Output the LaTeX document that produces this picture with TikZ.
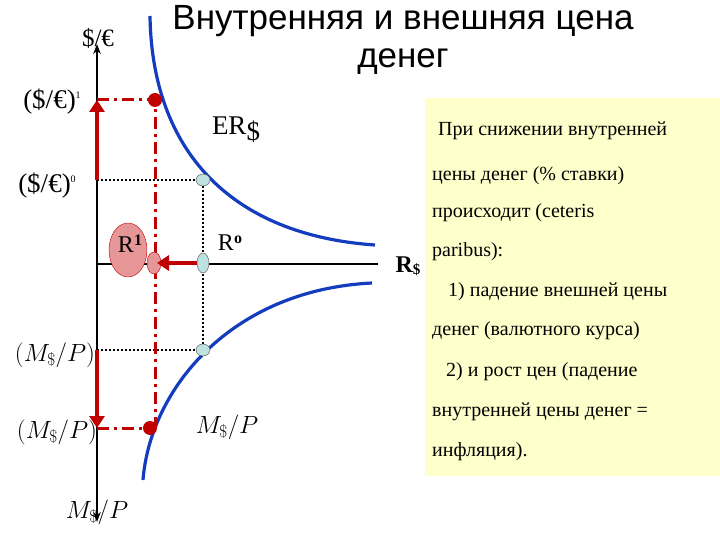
\documentclass[tikz,border=0pt]{standalone}
\usepackage{fontspec}
\setmainfont{Liberation Serif}
\newfontfamily\titlefont{Liberation Sans}
\usetikzlibrary{arrows.meta,shapes.geometric}
\definecolor{dred}{RGB}{192,0,0}
\definecolor{lblue}{RGB}{190,225,225}
\definecolor{pinkf}{RGB}{230,150,150}
\definecolor{boxbg}{RGB}{255,255,204}
\definecolor{cblue}{RGB}{20,60,190}
\begin{document}
\begin{tikzpicture}[x=1pt,y=-1pt,
  reddash/.style={dred,line width=3pt,dash pattern=on 12pt off 5pt on 3pt off 5pt},
  dotl/.style={black,line width=1.5pt,dash pattern=on 2pt off 2pt},
  redarr/.style={dred,line width=4.5pt,-{Triangle[length=12pt,width=15pt]}},
  curve/.style={cblue,line width=3.2pt},
  bt/.style={font=\fontsize{20}{24}\selectfont,anchor=west,inner sep=0pt},
  lab/.style={font=\fontsize{27}{30}\selectfont,inner sep=0pt},
  frac/.style={inner sep=0pt,font=\fontsize{24}{28}\selectfont}]
\useasboundingbox (0,0) rectangle (720,540);
% text box
\fill[boxbg] (425,98) rectangle (720,476);
% axes
\draw[line width=2.5pt,-{Stealth[length=10pt]}] (97,264) -- (97,44);
\draw[line width=2.5pt,-{Stealth[length=10pt]}] (97,264) -- (97,522);
\draw[line width=2.5pt] (97,264) -- (378,264);
% curves
\draw[curve] (150,16) .. controls (152,150) and (230,235) .. (375,245);
\draw[curve] (143,480) .. controls (150,390) and (230,290) .. (372,283);
% guide lines
\draw[dotl] (97,180) -- (203,180) -- (203,350) -- (97,350);
\draw[reddash] (97,100) -- (155,100) -- (155,428);
\draw[reddash] (97,428) -- (150,428);
% R1 ellipse
\node (r1) [ellipse,draw=dred,fill=pinkf,minimum width=38pt,minimum height=54pt,inner sep=0pt] at (128,250) {};
\node (r1s) [ellipse,draw=dred,fill=pinkf,minimum width=14pt,minimum height=22pt,inner sep=0pt] at (154,263) {};
% arrows
\node (a0) [coordinate] at (97,180) {};
\node (a1) [coordinate] at (97,100) {};
\node (b0) [coordinate] at (97,350) {};
\node (b1) [coordinate] at (97,428) {};
\node (c0) [coordinate] at (203,263) {};
\node (c1) [coordinate] at (157,263) {};
\draw[redarr] (a0) -- (a1);
\draw[redarr] (b0) -- (b1);
\draw[redarr] (c0) -- (c1);
% dots
\node (p1) [circle,fill=dred,minimum size=14pt,inner sep=0pt] at (155,100) {};
\node (p2) [circle,fill=dred,minimum size=14pt,inner sep=0pt] at (150,428) {};
\node (q1) [ellipse,draw=black!70,fill=lblue,minimum width=14pt,minimum height=12pt,inner sep=0pt] at (203,180) {};
\node (q2) [ellipse,draw=black!70,fill=lblue,minimum width=14pt,minimum height=12pt,inner sep=0pt] at (203,350) {};
\node (q3) [ellipse,draw=black!70,fill=lblue,minimum width=12pt,minimum height=20pt,inner sep=0pt] at (203,263) {};
% labels
\node (t1) [font=\titlefont\fontsize{35}{38}\selectfont,align=center,inner sep=0pt] at (403,40) {Внутренняя и внешняя цена\\денег};
\node (l0) [lab,font=\fontsize{25}{28}\selectfont] at (98,38) {\$/€};
\node (l1) [lab] at (52,102) {(\$/€)\raisebox{10pt}{\fontsize{10}{10}\selectfont 1}};
\node (l2) [lab] at (47,186) {(\$/€)\raisebox{10pt}{\fontsize{10}{10}\selectfont 0}};
\node (er) [lab] at (236,130) {ER\raisebox{-6pt}{\$}};
\node (lr1) [lab,font=\fontsize{24}{26}\selectfont] at (130,244) {R\raisebox{7pt}{\fontsize{16}{16}\selectfont\bfseries 1}};
\node (lr0) [lab,font=\fontsize{24}{26}\selectfont] at (230,243) {R\raisebox{7pt}{\fontsize{16}{16}\selectfont\bfseries o}};
\node (rs) [lab,font=\fontsize{24}{26}\selectfont\bfseries] at (408,266) {R\raisebox{-2pt}{\fontsize{15}{15}\selectfont\$}};
\node (m0) [frac] at (55,355) {$\displaystyle\biggl(M_{\$}\big/P\biggr)$};
\node (m1) [frac] at (57,432) {$\displaystyle\biggl(M_{\$}\big/P\biggr)$};
\node (m2) [frac] at (227,427) {$M_{\$}\big/P$};
\node (m3) [frac] at (97,512) {$M_{\$}\big/P$};
% box text
\node (x1) [bt] at (438,131) {При снижении внутренней};
\node (x2) [bt] at (432,176) {цены денег (\% ставки)};
\node (x3) [bt] at (432,213) {происходит (ceteris};
\node (x4) [bt] at (432,252) {paribus):};
\node (x5) [bt] at (448,292) {1) падение внешней цены};
\node (x6) [bt] at (432,331) {денег (валютного курса)};
\node (x7) [bt] at (446,372) {2) и рост цен (падение};
\node (x8) [bt] at (432,412) {внутренней цены денег =};
\node (x9) [bt] at (432,452) {инфляция).};
\end{tikzpicture}
\end{document}
